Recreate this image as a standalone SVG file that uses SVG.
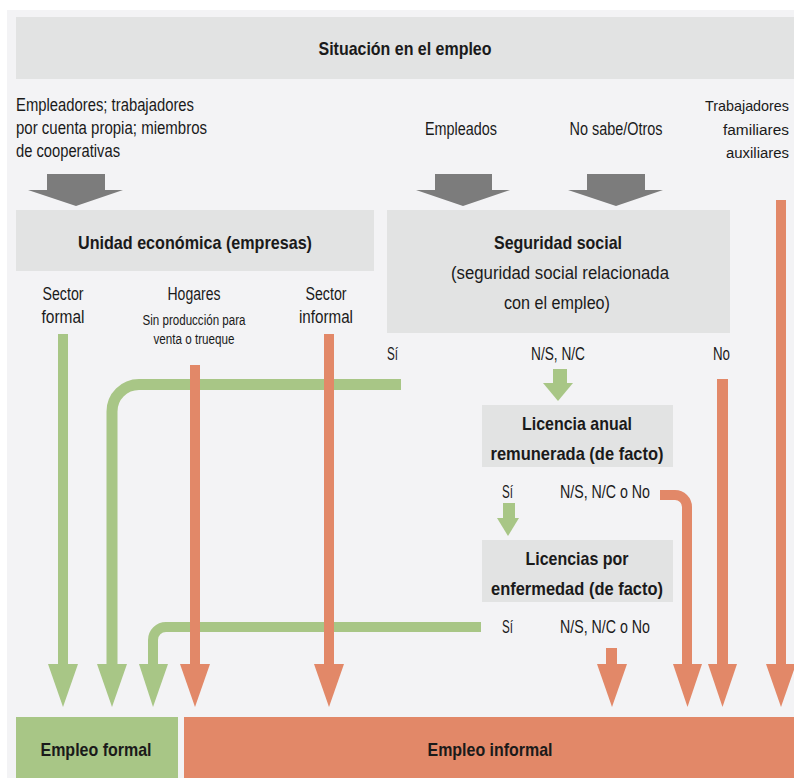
<svg xmlns="http://www.w3.org/2000/svg" width="794" height="778" viewBox="0 0 794 778">
<style>
text{font-family:"Liberation Sans",Arial,sans-serif;fill:#1a1a1a}
.b{font-weight:bold;font-size:18.5px}
.r{font-size:17.5px}
.rr{font-size:15.5px}
.s{font-size:14px}
.box{fill:#e2e3e3}
.g{fill:#a8c686}
.o{fill:#e28868}
.gs{fill:none;stroke:#a8c686}
.os{fill:none;stroke:#e28868}
.ga{fill:#7c7c7c}
.m{text-anchor:middle}
</style>
<rect x="0" y="0" width="794" height="778" fill="#ffffff"/>
<rect x="7" y="10" width="787" height="768" fill="#f3f3f5"/>

<g id="situacion">
<rect class="box" x="16" y="17" width="778" height="62"/>
<text class="b m" x="405" y="55" textLength="173" lengthAdjust="spacingAndGlyphs">Situación en el empleo</text>
</g>

<g id="cat-empleadores">
<text class="r" x="16" y="111" textLength="178" lengthAdjust="spacingAndGlyphs">Empleadores; trabajadores</text>
<text class="r" x="16" y="134" textLength="191" lengthAdjust="spacingAndGlyphs">por cuenta propia; miembros</text>
<text class="r" x="16" y="157" textLength="104" lengthAdjust="spacingAndGlyphs">de cooperativas</text>
<polygon class="ga" points="47,174 105,174 105,190 123,190 76,206 28,190 47,190"/>
</g>
<g id="cat-empleados">
<text class="r m" x="461" y="135" textLength="72" lengthAdjust="spacingAndGlyphs">Empleados</text>
<polygon class="ga" points="435,174 492,174 492,190 510,190 463,206 416,190 435,190"/>
</g>
<g id="cat-nosabe">
<text class="r m" x="616" y="135" textLength="93" lengthAdjust="spacingAndGlyphs">No sabe/Otros</text>
<polygon class="ga" points="587,174 645,174 645,190 663,190 616,206 568,190 587,190"/>
</g>
<g id="cat-auxiliares">
<text class="rr" x="705" y="111" textLength="84" lengthAdjust="spacingAndGlyphs" style="font-size:14.5px">Trabajadores</text>
<text class="rr" x="723" y="135" textLength="66" lengthAdjust="spacingAndGlyphs">familiares</text>
<text class="rr" x="726" y="158" textLength="63" lengthAdjust="spacingAndGlyphs">auxiliares</text>
</g>

<g id="unidad">
<rect class="box" x="16" y="210" width="358" height="61"/>
<text class="b m" x="195" y="249" textLength="234" lengthAdjust="spacingAndGlyphs">Unidad económica (empresas)</text>
<text class="r m" x="63" y="300" textLength="41" lengthAdjust="spacingAndGlyphs">Sector</text>
<text class="r m" x="63" y="323" textLength="43" lengthAdjust="spacingAndGlyphs">formal</text>
<text class="r m" x="194" y="300" textLength="53" lengthAdjust="spacingAndGlyphs">Hogares</text>
<text class="s m" x="194" y="325" textLength="103" lengthAdjust="spacingAndGlyphs">Sin producción para</text>
<text class="s m" x="194" y="344" textLength="81" lengthAdjust="spacingAndGlyphs">venta o trueque</text>
<text class="r m" x="326" y="300" textLength="41" lengthAdjust="spacingAndGlyphs">Sector</text>
<text class="r m" x="326" y="323" textLength="54" lengthAdjust="spacingAndGlyphs">informal</text>
</g>

<g id="seguridad">
<rect class="box" x="387" y="210" width="343" height="123"/>
<text class="b m" x="558" y="249" textLength="128" lengthAdjust="spacingAndGlyphs">Seguridad social</text>
<text class="r m" x="560" y="279" textLength="218" lengthAdjust="spacingAndGlyphs">(seguridad social relacionada</text>
<text class="r m" x="557" y="309" textLength="106" lengthAdjust="spacingAndGlyphs">con el empleo)</text>
<text class="r" x="387" y="360" textLength="11" lengthAdjust="spacingAndGlyphs">Sí</text>
<text class="r m" x="558" y="360" textLength="54" lengthAdjust="spacingAndGlyphs">N/S, N/C</text>
<text class="r" x="713" y="360" textLength="17" lengthAdjust="spacingAndGlyphs">No</text>
</g>

<g id="licencia-anual">
<rect class="box" x="482" y="405" width="191" height="62"/>
<text class="b m" x="577" y="430" textLength="110" lengthAdjust="spacingAndGlyphs">Licencia anual</text>
<text class="b m" x="577" y="460" textLength="173" lengthAdjust="spacingAndGlyphs">remunerada (de facto)</text>
<text class="r" x="502" y="498" textLength="11" lengthAdjust="spacingAndGlyphs">Sí</text>
<text class="r" x="560" y="498" textLength="90" lengthAdjust="spacingAndGlyphs">N/S, N/C o No</text>
</g>

<g id="licencia-enfermedad">
<rect class="box" x="482" y="540" width="191" height="62"/>
<text class="b m" x="577" y="565" textLength="103" lengthAdjust="spacingAndGlyphs">Licencias por</text>
<text class="b m" x="577" y="595" textLength="172" lengthAdjust="spacingAndGlyphs">enfermedad (de facto)</text>
<text class="r" x="502" y="633" textLength="11" lengthAdjust="spacingAndGlyphs">Sí</text>
<text class="r" x="560" y="633" textLength="90" lengthAdjust="spacingAndGlyphs">N/S, N/C o No</text>
</g>

<g id="connectors">
<rect class="g" x="58" y="334" width="10" height="332"/>
<polygon class="g" points="48,664 78,664 63,707"/>
<path class="gs" stroke-width="11" d="M401,384.5 H139 A27,27 0 0 0 112,411.5 V666"/>
<polygon class="g" points="97,664 127,664 112,707"/>
<path class="gs" stroke-width="10" d="M481,627 H166 A13,13 0 0 0 153,640 V666"/>
<polygon class="g" points="139,664 168,664 153,707"/>
<rect class="g" x="553" y="369" width="14" height="16"/>
<polygon class="g" points="543,383 573,383 558,401"/>
<rect class="g" x="503" y="503" width="12" height="16"/>
<polygon class="g" points="497,518 519,518 508,536"/>

<rect class="o" x="190" y="365" width="10" height="301"/>
<polygon class="o" points="180,664 210,664 195,707"/>
<rect class="o" x="324" y="334" width="10" height="332"/>
<polygon class="o" points="314,664 344,664 329,707"/>
<rect class="o" x="606" y="648" width="11" height="18"/>
<polygon class="o" points="597,664 627,664 612,707"/>
<path class="os" stroke-width="10" d="M660,495 H675 A12,12 0 0 1 687,507 V666"/>
<polygon class="o" points="673,664 702,664 687.5,707"/>
<rect class="o" x="717" y="379" width="11" height="287"/>
<polygon class="o" points="708,664 737,664 722.5,707"/>
<rect class="o" x="776" y="200" width="10" height="466"/>
<polygon class="o" points="766,664 796,664 781,707"/>
</g>

<g id="empleo-formal">
<rect class="g" x="16" y="717" width="162" height="61"/>
<text class="b m" x="96" y="756" textLength="111" lengthAdjust="spacingAndGlyphs">Empleo formal</text>
</g>
<g id="empleo-informal">
<rect class="o" x="184" y="717" width="610" height="61"/>
<text class="b m" x="490" y="756" textLength="125" lengthAdjust="spacingAndGlyphs">Empleo informal</text>
</g>
</svg>
